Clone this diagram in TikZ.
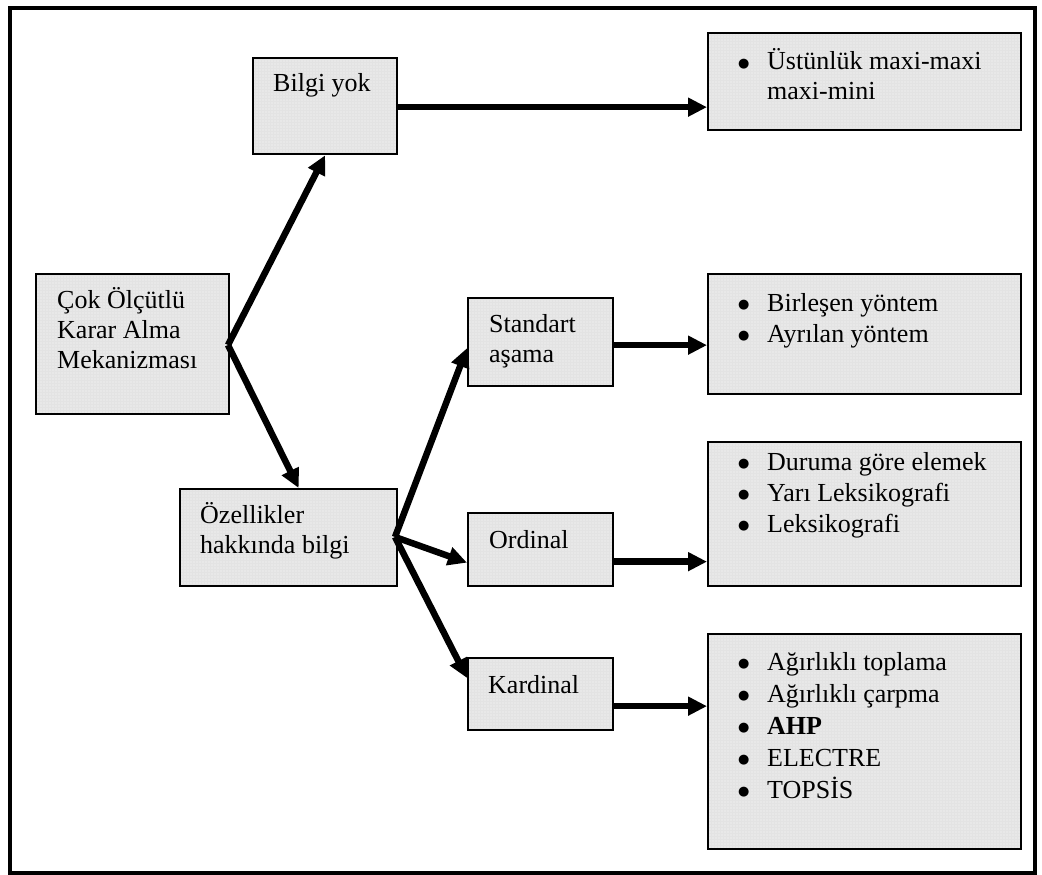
\documentclass[tikz,border=0pt]{standalone}
\usepackage{fontspec}
\setmainfont{Liberation Serif}
\newfontfamily\symfont{DejaVu Sans}
\usetikzlibrary{arrows.meta,patterns}

% lines of a label stacked with their first baseline as the node's base
\newcommand{\stack}[1]{\begin{tabular}[t]{@{}l@{}}#1\end{tabular}}
% bullet with the gap before the item text
\newcommand{\itm}{\makebox[29pt][l]{\raisebox{2.5pt}{\symfont\fontsize{13}{13}\selectfont ●}}}

\begin{document}
\begin{tikzpicture}[x=1pt,y=-1pt,
  box/.style={draw=black,line width=2.3pt,preaction={fill=black!9},
    pattern=grid,pattern color=black!11,
    anchor=north west,inner sep=0pt},
  lbl/.style={anchor=base west,inner sep=0pt,font=\fontsize{26}{30}\selectfont},
  lbllist/.style={lbl,font=\fontsize{26}{31}\selectfont},
  link/.style={line width=6.5pt,-{Triangle[length=19pt,width=18pt]}},
]
\useasboundingbox (0,0) rectangle (1042,875);
\draw[line width=3.5pt] (10,8) rectangle (1035,873);

% boxes
\node[box,minimum width=193pt,minimum height=140pt] (cok)  at (35,273)  {};
\node[box,minimum width=144pt,minimum height=96pt]  (bilgi) at (252,57) {};
\node[box,minimum width=217pt,minimum height=97pt]  (ozel) at (179,488) {};
\node[box,minimum width=313pt,minimum height=97pt]  (ust)  at (707,32)  {};
\node[box,minimum width=145pt,minimum height=88pt]  (std)  at (467,297) {};
\node[box,minimum width=145pt,minimum height=73pt]  (ord)  at (467,512) {};
\node[box,minimum width=145pt,minimum height=72pt]  (kard) at (467,657) {};
\node[box,minimum width=313pt,minimum height=120pt] (bir)  at (707,273) {};
\node[box,minimum width=313pt,minimum height=144pt] (dur)  at (707,441) {};
\node[box,minimum width=313pt,minimum height=215pt] (kli)  at (707,633) {};

% labels
\node[lbl] (tcok)  at (57,308)  {\stack{Çok Ölçütlü\\Karar Alma\\Mekanizması}};
\node[lbl] (tbil)  at (273,92)  {Bilgi yok};
\node[lbl] (toz)   at (200,523) {\stack{Özellikler\\hakkında bilgi}};
\node[lbl] (tstd)  at (489,332) {\stack{Standart\\aşama}};
\node[lbl] (tord)  at (489,548) {Ordinal};
\node[lbl] (tkar)  at (488,693) {Kardinal};
\node[lbl] (tust)  at (738,70)  {\stack{\itm Üstünlük maxi-maxi\\\hspace*{29pt}maxi-mini}};
\node[lbllist] (tbir) at (738,311) {\stack{\itm Birleşen yöntem\\\itm Ayrılan yöntem}};
\node[lbllist] (tdur) at (738,470) {\stack{\itm Duruma göre elemek\\\itm Yarı Leksikografi\\\itm Leksikografi}};
\node[lbl,font=\fontsize{26}{32}\selectfont] (tkli) at (738,670)
  {\stack{\itm Ağırlıklı toplama\\\itm Ağırlıklı çarpma\\\itm \textbf{AHP}\\\itm ELECTRE\\\itm TOPSİS}};

% branching points
\coordinate (fanA) at (228,345);
\coordinate (fanB) at (395,537);

% connectors
\draw[link] (fanA) -- (bilgi.south);
\draw[link] (fanA) -- ([xshift=10pt]ozel.north);
\draw[link] (fanB) -- ([yshift=-6pt]std.west);
\draw[link] (fanB) -- ([yshift=-13pt]ord.west);
\draw[link] (fanB) -- ([yshift=-21pt]kard.north west);

\coordinate (b1) at ([yshift=-1pt]bilgi.east);
\coordinate (s1) at ([yshift=-3pt]std.east);
\coordinate (o1) at ([yshift=-12pt]ord.east);
\coordinate (k1) at ([yshift=-12pt]kard.east);
\draw[link] (b1) -- (b1 -| ust.west);
\draw[link] (s1) -- (s1 -| bir.west);
\draw[link] (o1) -- (o1 -| dur.west);
\draw[link] (k1) -- (k1 -| kli.west);
\end{tikzpicture}
\end{document}
